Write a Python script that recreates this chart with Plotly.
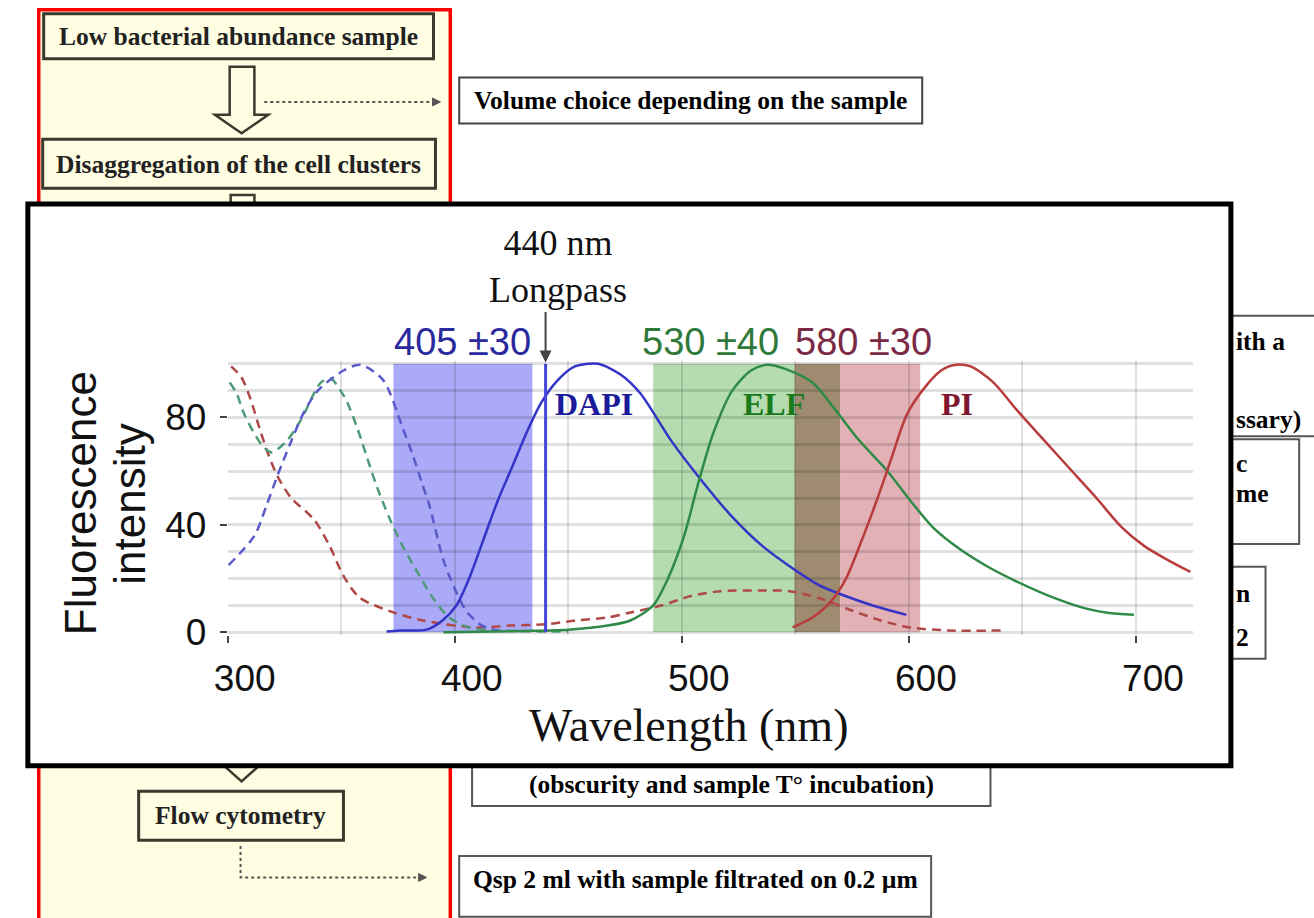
import plotly.graph_objects as go

# ---------------- data ----------------
# DAPI excitation (blue dashed)
dapi_ex_nm = [300.4, 311.8, 317, 322.2, 327.9, 333.6, 339.7, 351, 358.4, 368.4, 377.1, 381.5, 385.8, 388.9, 394.6, 397.6, 405, 412, 420]
dapi_ex_int = [25, 36, 47, 59, 71, 82, 90, 97.5, 99.6, 94, 76, 66, 55, 47, 28, 21, 8, 2.5, 0.5]
# ELF excitation (green dashed)
elf_ex_nm = [300.9, 303.9, 307.4, 314.8, 319.2, 325.7, 332.2, 341, 345.3, 349.7, 352.7, 357.1, 361.4, 365.8, 371.5, 377.1, 384.5, 390.2, 397.6, 406.3, 419.4, 440, 450]
elf_ex_int = [93, 89, 81, 70, 67, 71, 79, 93, 94.5, 90, 85.5, 76, 65, 54, 42, 32, 21, 13, 5.5, 1.8, 0.7, 0.3, 0.3]
# PI excitation (red dashed)
pi_ex_nm = [301.5, 306, 310, 314, 318, 322, 328, 338, 345, 351, 358, 371, 386, 409, 424, 440, 453, 467, 477, 491, 504, 517, 534, 547.5, 560.6, 574, 587.6, 600.7, 617.2, 642.5]
pi_ex_int = [99, 95, 87, 76, 66, 58, 50, 42, 32, 21, 13, 8, 4.4, 1.8, 2.5, 3, 4.4, 5.5, 7.3, 10, 13.5, 15.3, 15.6, 15.3, 12.7, 8.4, 4.4, 1.8, 0.7, 0.7]
# DAPI emission (blue solid)
dapi_em_nm = [370, 375.8, 387.6, 394.6, 400.7, 406.3, 413.7, 419.4, 425, 431.2, 438.1, 445.5, 452.9, 463, 473, 481.7, 495.6, 509.2, 522.2, 535.7, 549.2, 560.6, 570.6, 584.1, 598.9]
dapi_em_int = [0.3, 0.7, 1, 4.4, 10, 20, 37, 50, 61, 73.5, 85.5, 94, 99, 100, 96, 89, 71, 56, 43, 32, 23.6, 17.5, 14, 10, 6.5]
# ELF emission (green solid)
elf_em_nm = [395, 430, 450, 467.3, 477.3, 487.4, 493.9, 500.9, 507.4, 514, 522.2, 530.5, 537.5, 545.8, 557.5, 567.5, 577.6, 590.6, 600.7, 610.7, 622.4, 634.2, 647.3, 664.3, 677.3, 687.4, 699.1]
elf_em_int = [0, 0.5, 1, 2.5, 4.4, 10, 20, 35.6, 56, 74.5, 90, 97.5, 99.6, 98, 93, 83, 72, 60, 49, 39, 31, 24.7, 19, 12.7, 9, 7.3, 6.5]
# PI emission (red solid)
pi_em_nm = [548.8, 557.5, 565.8, 572.3, 578.9, 585.8, 592.4, 598.9, 605.9, 614.2, 620.7, 627.2, 637.3, 647.3, 659, 670.8, 682.6, 693.9, 703.9, 713.9, 724]
pi_em_int = [1.8, 5.5, 11.6, 20, 33.5, 49, 65, 80.7, 90, 97.5, 99.6, 99, 93, 83, 72, 61, 50, 39, 32, 27, 22.5]

# filter bands (nm)
band_names = ["405 ±30", "530 ±40", "overlap", "580 ±30"]
band_lo = [373, 487.4, 549.7, 569.7]
band_hi = [434.2, 549.7, 569.7, 605]
longpass_nm = 440

# ---------------- helpers ----------------
W, H = 1314, 918
def px(x): return x / W
def py(y): return 1 - y / H

serif = "Liberation Serif, Times New Roman, serif"
sans = "Liberation Sans, Arial, sans-serif"
YEL = "#fffee2"
DOT = "#3a3a2e"
FS = 25.5

shapes = []
annots = []

def rect(x0, y0, x1, y1, color, width, fill):
    shapes.append(dict(type="rect", xref="paper", yref="paper", x0=px(x0), x1=px(x1),
                       y0=py(y1), y1=py(y0), line=dict(color=color, width=width),
                       fillcolor=fill, layer="below"))

def path(pts, color, width, fill=None, closed=True, dash=None):
    d = "M " + " L ".join(f"{px(x):.5f},{py(y):.5f}" for x, y in pts) + (" Z" if closed else "")
    s = dict(type="path", xref="paper", yref="paper", path=d,
             line=dict(color=color, width=width, dash=dash), layer="below")
    if fill:
        s["fillcolor"] = fill
    shapes.append(s)

def text(x, y, s, size, color="#000", family=serif, bold=False, xanchor="center", angle=0):
    annots.append(dict(xref="paper", yref="paper", x=px(x), y=py(y),
                       text=f"<b>{s}</b>" if bold else s, showarrow=False,
                       font=dict(size=size, color=color, family=family),
                       xanchor=xanchor, yanchor="middle", textangle=angle, borderpad=0))

# ---------------- background flowchart ----------------
rect(25, 10, 441, 940, "#ff0000", 3.5, YEL)
rect(30, 14, 424, 60, DOT, 3, "rgba(0,0,0,0)")
text(227, 37, "Low bacterial abundance sample", FS, "#222", bold=True)
path([(218, 68), (243, 68), (243, 117), (257, 117), (230, 136), (203, 117), (218, 117)], DOT, 2.5, YEL)
path([(253, 104), (424, 104)], "#555", 2, closed=False, dash="dot")
path([(423, 100), (431, 104), (423, 108)], "#555", 1, "#555")
rect(450, 79, 918, 126, "#444", 2, "white")
text(684, 103, "Volume choice depending on the sample", FS, "#000", bold=True)
rect(29, 142, 426, 192, DOT, 3, "rgba(0,0,0,0)")
text(227, 168, "Disaggregation of the cell clusters", FS, "#222", bold=True)
path([(219, 199), (243, 199), (243, 770), (260, 770), (230, 797), (200, 770), (219, 770)], DOT, 2.5, YEL)
rect(126, 807, 333, 857, DOT, 3, "rgba(0,0,0,0)")
text(229, 832, "Flow cytometry", FS, "#222", bold=True)
path([(229, 863), (229, 895), (410, 895)], "#555", 2, closed=False, dash="dot")
path([(409, 891), (417, 895), (409, 899)], "#555", 1, "#555")
rect(463, 700, 987, 822, "#555", 2, "white")
text(725, 800, "(obscurity and sample T° incubation)", FS, "#000", bold=True)
rect(450, 873, 927, 935, "#555", 2, "white")
text(689, 897, "Qsp 2 ml with sample filtrated on 0.2 µm", FS, "#000", bold=True)
rect(1100, 322, 1330, 445, "#555", 2, "white")
rect(1100, 448, 1299, 555, "#555", 2, "white")
rect(1100, 578, 1265, 672, "#555", 2, "white")
text(1234, 348, "ith a", FS, bold=True, xanchor="left")
text(1234, 428, "ssary)", FS, bold=True, xanchor="left")
text(1234, 473, "c", FS, bold=True, xanchor="left")
text(1234, 503, "me", FS, bold=True, xanchor="left")
text(1234, 605, "n", FS, bold=True, xanchor="left")
text(1234, 650, "2", FS, bold=True, xanchor="left")

# chart panel
rect(14, 208, 1230, 781, "#000", 5, "white")

# ---------------- chart bands ----------------
band_colors = ["#aaaaf8", "#b4dcb0", "#9e8b70", "#e2b1b5"]
for lo, hi, c in zip(band_lo, band_hi, band_colors):
    shapes.append(dict(type="rect", xref="x", yref="y", x0=lo, x1=hi, y0=0, y1=100,
                       fillcolor=c, line=dict(width=0), layer="below"))

fig = go.Figure()
dash = "9px,6px"
curves = [
    (pi_ex_nm, pi_ex_int, "#b04848", dash),
    (elf_ex_nm, elf_ex_int, "#4f9a78", dash),
    (dapi_ex_nm, dapi_ex_int, "#5a5ac8", dash),
    (dapi_em_nm, dapi_em_int, "#3434c8", None),
    (elf_em_nm, elf_em_int, "#2f8a48", None),
    (pi_em_nm, pi_em_int, "#b83c3c", None),
]
for xs, ys, c, d in curves:
    fig.add_trace(go.Scatter(x=xs, y=ys, mode="lines",
                             line=dict(color=c, width=2.5, dash=d, shape="spline", smoothing=0.8),
                             hoverinfo="skip"))
fig.add_trace(go.Scatter(x=[longpass_nm, longpass_nm], y=[0, 100], mode="lines",
                         line=dict(color="#4646d8", width=3), hoverinfo="skip"))

# chart texts
text(550, 272, "440 nm<br>Longpass", 36, "#111")
text(453, 349, band_names[0], 38, "#2a2a9c", family=sans)
text(704, 349, band_names[1], 38, "#2f7a3a", family=sans)
text(859, 349, band_names[3], 38, "#7a2a45", family=sans)
text(586, 412, "DAPI", 32, "#1a1a9a", bold=True)
text(768, 412, "ELF", 32, "#1a7a1a", bold=True)
text(953, 412, "PI", 32, "#80162e", bold=True)
text(682, 740, "Wavelength (nm)", 46, "#111")
text(68, 513, "Fluorescence", 44, "#111", family=sans, angle=-90)
text(117, 514, "intensity", 44, "#111", family=sans, angle=-90)
annots.append(dict(xref="x", yref="y", x=longpass_nm, y=100.5, ax=0, ay=-52, text="",
                   showarrow=True, arrowhead=2, arrowwidth=2, arrowsize=1.2, arrowcolor="#444"))

grid = "rgba(0,0,0,0.12)"
fig.update_layout(
    width=W, height=H, autosize=False, margin=dict(l=0, r=0, t=0, b=0),
    paper_bgcolor="white", plot_bgcolor="rgba(0,0,0,0)", showlegend=False,
    shapes=shapes, annotations=annots,
    xaxis=dict(domain=[px(216), px(216 + 425 * 2.295)], range=[300, 725],
               tickmode="linear", tick0=300, dtick=100,
               ticks="outside", ticklen=7, tickwidth=2, tickcolor="#444",
               showgrid=True, gridcolor=grid, gridwidth=2,
               minor=dict(tick0=300, dtick=50, showgrid=True, gridcolor=grid, gridwidth=2, ticks=""),
               zeroline=False, showline=False,
               tickfont=dict(family=sans, size=37, color="#111"),
               ticklabelshift=17, ticklabelstandoff=4),
    yaxis=dict(domain=[py(647.7), py(368.3)], range=[-1, 101],
               tickmode="linear", tick0=0, dtick=40,
               ticks="outside", ticklen=7, tickwidth=2, tickcolor="#444",
               showgrid=True, gridcolor=grid, gridwidth=3,
               minor=dict(tick0=0, dtick=10, showgrid=True, gridcolor=grid, gridwidth=3, ticks=""),
               zeroline=False, showline=False,
               tickfont=dict(family=sans, size=37, color="#111"),
               ticklabelstandoff=6),
)

fig.write_html("out.html")
